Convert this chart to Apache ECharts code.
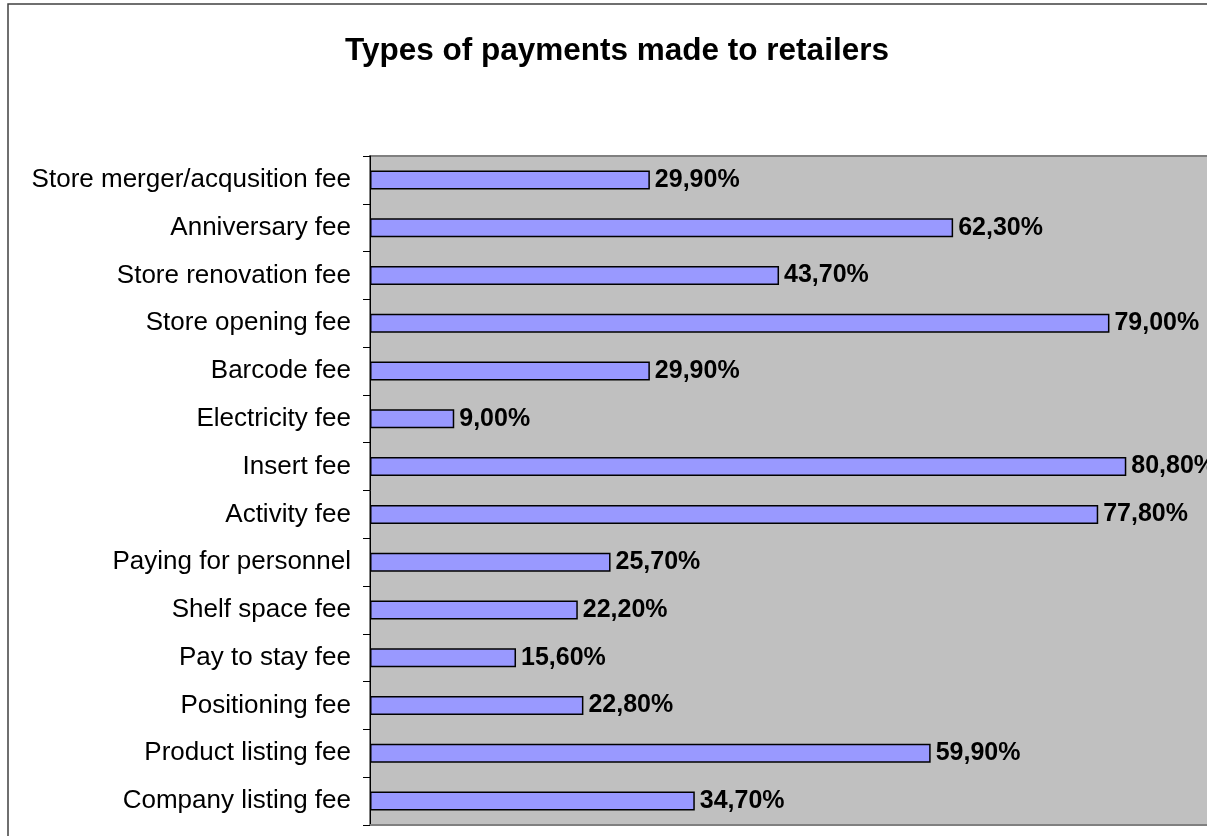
<!DOCTYPE html>
<html>
<head>
<meta charset="utf-8">
<script src="https://cdn.jsdelivr.net/npm/echarts@6/dist/echarts.min.js"></script>
<style>
html,body{margin:0;padding:0;background:#fff;overflow:hidden;width:1207px;height:836px;}
#chart{width:1320px;height:836px;}
</style>
</head>
<body>
<div id="chart"></div>
<script>
const titleText = 'Types of payments made to retailers';
const categories = [
  'Store merger/acqusition fee',
  'Anniversary fee',
  'Store renovation fee',
  'Store opening fee',
  'Barcode fee',
  'Electricity fee',
  'Insert fee',
  'Activity fee',
  'Paying for personnel',
  'Shelf space fee',
  'Pay to stay fee',
  'Positioning fee',
  'Product listing fee',
  'Company listing fee'
];
const values = [29.9, 62.3, 43.7, 79.0, 29.9, 9.0, 80.8, 77.8, 25.7, 22.2, 15.6, 22.8, 59.9, 34.7];

const FONT = '"Liberation Sans", Arial, sans-serif';
const chart = echarts.init(document.getElementById('chart'), null, {renderer: 'canvas'});
chart.setOption({
  backgroundColor: '#ffffff',
  animation: false,
  title: {
    text: titleText,
    left: 612,
    top: 30,
    textAlign: 'center',
    textStyle: {fontFamily: FONT, fontWeight: 'bold', fontSize: 31.5, color: '#000'}
  },
  graphic: [{
    type: 'rect',
    shape: {x: 8, y: 4, width: 1305, height: 1000},
    style: {fill: null, stroke: '#404040', lineWidth: 1.5},
    silent: true,
    z: 100
  }],
  grid: {
    left: 370,
    top: 156,
    right: 14,
    bottom: 11,
    show: true,
    backgroundColor: '#C0C0C0',
    borderColor: '#808080',
    borderWidth: 2,
    containLabel: false
  },
  xAxis: {
    type: 'value',
    min: 0,
    max: 100,
    axisLine: {show: true, lineStyle: {color: '#808080', width: 2}},
    axisTick: {show: false},
    axisLabel: {show: false},
    splitLine: {show: false}
  },
  yAxis: {
    type: 'category',
    data: categories,
    inverse: true,
    axisLine: {show: true, lineStyle: {color: '#000', width: 1}},
    axisTick: {show: true, length: 7, inside: false, lineStyle: {color: '#000'}},
    axisLabel: {margin: 19, fontFamily: FONT, fontSize: 26, color: '#000'},
    splitLine: {show: false}
  },
  series: [{
    type: 'bar',
    data: values,
    barWidth: 19,
    itemStyle: {color: '#9999FF', borderColor: '#000', borderWidth: 1.5},
    label: {
      show: true,
      position: 'right',
      distance: 5,
      fontFamily: FONT,
      fontWeight: 'bold',
      fontSize: 25,
      color: '#000',
      formatter: p => p.value.toFixed(2).replace('.', ',') + '%'
    }
  }]
});
</script>
</body>
</html>
